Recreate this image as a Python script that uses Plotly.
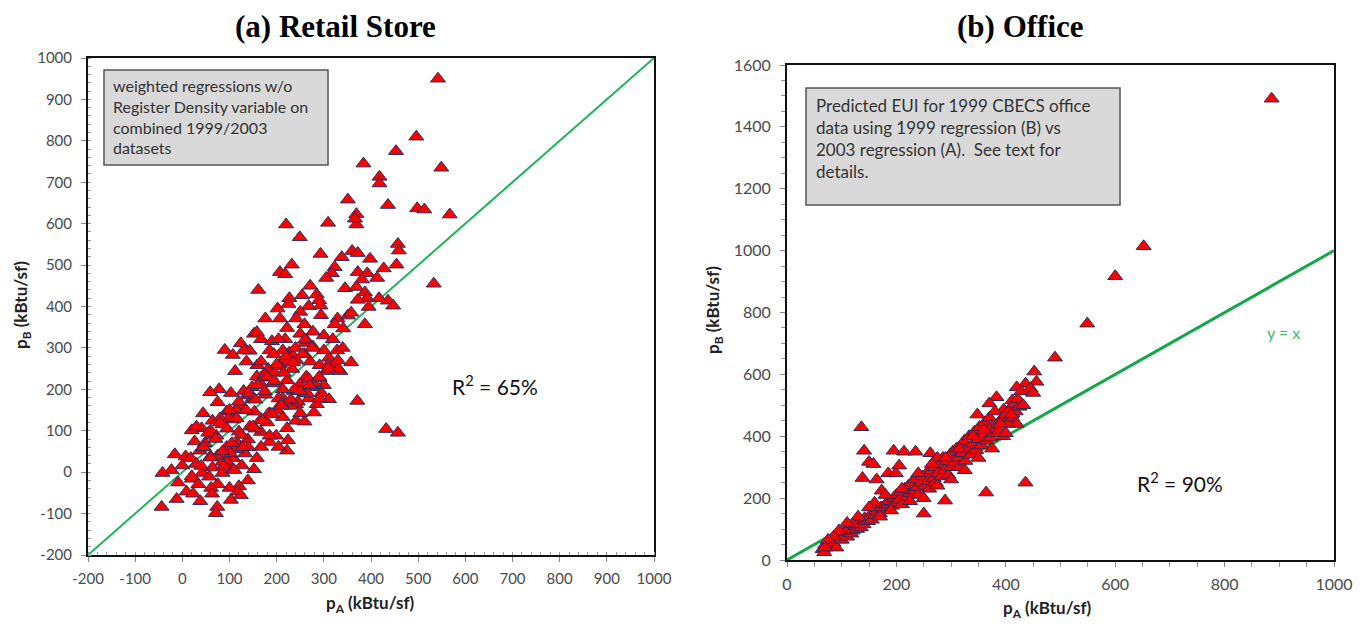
import plotly.graph_objects as go

# ---------------- data: (a) Retail Store ----------------
retail_pa = [542, 496, 453, 549, 384, 418, 418, 351, 436, 498, 513, 567, 369, 369, 366, 220, 309, 249,
             293, 360, 372, 457, 459, 454, 533, 232, 207, 218, 338, 323, 317, 305, 398, 372, 392, 413,
             427, 381, 345, 369, 387, 392, 372, 417, 436, 447, 395, 161, 271, 254, 227, 285, 290, 268,
             293, 202, 225, 250, 207, 241, 294, 329, 351, 323, 341, 358, 387, 176, 152, 167, 124, 90,
             107, 143, 190, 218, 250, 261, 300, 319, 328, 358, 314, 335, 305, 291, 263, 233, 207, 182,
             159, 136, 112, 167, 194, 222, 250, 277, 295, 311, 285, 279, 241, 213, 176, 149, 130, 103,
             78, 59, 75, 94, 121, 153, 185, 213, 241, 222, 199, 224, 185, 167, 143, 120, 108, 85,
             64, 44, 41, 20, 26, 48, 72, 94, 117, 139, 167, 158, 133, 108, 85, 60, 37, 7,
             -16, 0, -23, -42, -9, 20, 42, 64, 85, 106, 126, 152, 139, 120, 100, 75, 57, 34,
             9, 23, 38, 61, 63, 74, 71, 103, 117, 124, -12, -44, 62, 75, 18, 167, 259, 250,
             268, 291, 259, 236, 213, 158, 130, 222, 204, 185, 277, 259, 222, 204, 185, 167, 158, 204,
             371, 432, 457, 271, 291, 311, 300, 277, 259, 241, 227, 213, 194, 140, 115, 95, 180, 230,
             265, 300, 330, 172, 148, 120, 98, 60, 45, 30, 88, 110, 190, 245, 280, 310, 340, 200,
             150, 175, 205, 235, 262, 128, 102, 80, 155, 182, 210, 238, 268, 115, 140, 165, 195, 225,
             30, 55, 80, 100, 120, 140, 160, 180, 200, 220, 240, 260, 45, 70, 95, 115, 135, 155,
             175, 195, 215, 235, 255, 275, 20, 40, 60, 85, 105, 125, 150, 170, 190, 210, 230, 250,
             270, 290, 310, 330]
retail_pb = [950, 810, 775, 735, 745, 713, 697, 658, 645, 637, 634, 622, 623, 598, 612, 598, 602, 567,
             527, 534, 529, 551, 535, 501, 455, 501, 483, 478, 519, 495, 480, 469, 515, 483, 480, 469,
             492, 465, 444, 447, 434, 420, 416, 420, 414, 402, 399, 440, 450, 427, 420, 429, 415, 401,
             402, 395, 406, 387, 371, 371, 379, 371, 378, 357, 347, 385, 357, 371, 334, 321, 311, 295,
             283, 293, 316, 321, 334, 312, 330, 321, 294, 265, 265, 244, 244, 227, 231, 249, 261, 249,
             258, 267, 244, 228, 214, 222, 213, 205, 191, 176, 164, 144, 164, 178, 187, 176, 196, 191,
             200, 193, 169, 146, 150, 146, 142, 133, 124, 106, 88, 77, 73, 97, 110, 98, 127, 115,
             124, 142, 106, 101, 74, 70, 88, 61, 70, 79, 61, 34, 45, 34, 25, 38, 52, 38,
             43, 16, 5, -2, -25, -16, -2, 11, -2, 7, 16, 7, -20, -34, -38, -29, -11, -29,
             -47, -52, -70, -38, -52, -84, -99, -67, -47, -56, -65, -84, 88, 40, 34, 128, 122, 142,
             178, 178, 191, 196, 200, 338, 294, 348, 321, 294, 339, 357, 52, 61, 88, 267, 231, 178,
             172, 104, 95, 267, 258, 276, 294, 303, 285, 271, 289, 294, 285, 60, 55, 25, 120, 160,
             190, 210, 250, 230, 205, 160, 130, 100, 60, 20, 15, 5, 140, 170, 215, 260, 300, 150,
             180, 235, 255, 280, 320, 60, 45, 130, 105, 140, 165, 200, 225, 150, 185, 215, 240, 270,
             110, 95, 120, 150, 170, 190, 210, 230, 260, 280, 300, 320, 60, 80, 105, 130, 150, 175,
             195, 220, 240, 265, 285, 300, -10, 15, 35, 50, 70, 90, 110, 125, 140, 160, 175, 195,
             210, 230, 250, 270]

# ---------------- data: (b) Office ----------------
office_pa = [886, 652, 600, 549, 490, 452, 436, 456, 444, 420, 383, 370, 348, 396, 412, 412, 404, 436,
             364, 289, 250, 136, 141, 150, 158, 138, 164, 195, 214, 185, 199, 205, 173,
             65, 68, 70, 75, 80, 85, 90, 92, 95, 100, 105, 110, 112, 118, 120, 125, 128, 132,
             135, 140, 142, 148, 150, 155, 158, 162, 165, 170, 172, 178, 180, 185, 188, 192, 195, 198,
             200, 205, 208, 210, 215, 218, 222, 225, 228, 232, 235, 238, 240, 245, 248, 252, 255, 258,
             260, 265, 268, 270, 272, 276, 280, 283, 285, 288, 292, 295, 298, 300, 303, 306, 310, 312,
             315, 318, 320, 324, 326, 330, 333, 336, 340, 343, 346, 350, 352, 355, 358, 362, 365, 368,
             370, 372, 375, 378, 380, 385, 388, 392, 395, 400, 405, 408, 412, 415, 418, 422, 425, 428,
             432, 445, 450, 235, 262, 275,
             180, 190, 210, 225, 240, 250, 265, 275, 290, 300, 315, 325, 340, 350, 360, 375, 390, 400,
             410, 420, 160, 150, 170, 130, 120, 110, 95, 85, 75, 70]
office_pb = [1491, 1014, 917, 764, 654, 609, 570, 576, 546, 558, 526, 506, 470, 486, 516, 474, 450, 250,
             218, 192, 150, 429, 353, 317, 310, 265, 260, 353, 350, 280, 280, 305, 224,
             35, 25, 50, 45, 60, 55, 40, 70, 80, 65, 90, 75, 100, 85, 95, 110, 100, 120,
             105, 115, 135, 125, 140, 130, 150, 145, 160, 150, 170, 165, 180, 170, 190, 175, 200, 185,
             210, 195, 220, 180, 230, 205, 240, 215, 250, 225, 260, 235, 210, 250, 270, 240, 280, 255,
             230, 290, 265, 300, 250, 280, 310, 270, 330, 290, 320, 275, 340, 300, 350, 315, 360, 330,
             300, 370, 345, 385, 320, 360, 400, 340, 375, 415, 355, 390, 430, 370, 400, 445, 385, 420,
             460, 395, 430, 410, 480, 440, 420, 455, 400, 470, 440, 490, 460, 505, 480, 520, 495, 545,
             500, 555, 540, 350, 345, 330,
             210, 160, 230, 190, 280, 200, 310, 240, 330, 260, 360, 290, 400, 330, 420, 360, 440, 410,
             470, 440, 185, 170, 140, 140, 115, 120, 95, 75, 65, 40]

diag_x = [-200, 1000]
diag_y = [-200, 1000]
diag2_x = [0, 1000]
diag2_y = [0, 1000]

left_xticks = list(range(-200, 1001, 100))
left_yticks = list(range(-200, 1001, 100))
right_xticks = list(range(0, 1001, 200))
right_yticks = list(range(0, 1601, 200))

# ---------------- figure ----------------
W, H = 1364, 626
OFF = 8  # page body margin
RED = "#ff0000"
EDGE = "#2a2a5a"
GREEN = "#1fb45a"
TICKFONT = dict(family="Lato, 'Open Sans', sans-serif", size=15, color="#4a4a4a")

fig = go.Figure()

marker = dict(symbol="triangle-up", size=13, color=RED, line=dict(color=EDGE, width=1))

fig.add_trace(go.Scatter(x=diag_x, y=diag_y, mode="lines", line=dict(color=GREEN, width=2),
                         xaxis="x", yaxis="y", hoverinfo="skip"))
fig.add_trace(go.Scatter(x=retail_pa, y=retail_pb, mode="markers", marker=marker,
                         xaxis="x", yaxis="y"))
fig.add_trace(go.Scatter(x=diag2_x, y=diag2_y, mode="lines", line=dict(color="#12a84a", width=3),
                         xaxis="x2", yaxis="y2", hoverinfo="skip"))
fig.add_trace(go.Scatter(x=office_pa, y=office_pb, mode="markers", marker=marker,
                         xaxis="x2", yaxis="y2"))


def px_x(p):
    return (p - OFF) / W


def px_y(p):
    return 1 - (p - OFF) / H


axis_common = dict(showgrid=False, zeroline=False, showline=True, mirror=True, automargin=False,
                   linecolor="#111111", linewidth=2, ticks="outside",
                   ticklen=5, tickcolor="#888888", fixedrange=True)
RIGHT_TICKFONT = dict(family="Lato, 'Open Sans', sans-serif", size=16, color="#4a4a4a")

fig.update_layout(
    width=W, height=H, margin=dict(l=0, r=0, t=0, b=0, autoexpand=False),
    paper_bgcolor="white", plot_bgcolor="white", showlegend=False,
    xaxis=dict(domain=[px_x(88), px_x(654)], range=[-200, 1000], tickvals=left_xticks,
               ticktext=[str(v) for v in left_xticks], ticklabelstandoff=4, tickfont=TICKFONT,
               anchor="y", minor=dict(dtick=20, ticks="inside", ticklen=3, tickcolor="#999999"),
               **axis_common),
    yaxis=dict(domain=[px_y(555), px_y(58)], range=[-200, 1000], tickvals=left_yticks,
               ticktext=[str(v) for v in left_yticks], ticklabelstandoff=6, tickfont=TICKFONT,
               anchor="x", minor=dict(dtick=20, ticks="inside", ticklen=3, tickcolor="#999999"),
               **axis_common),
    xaxis2=dict(domain=[px_x(787), px_x(1334)], range=[0, 1000], tickvals=right_xticks,
                ticklabelstandoff=4, tickfont=RIGHT_TICKFONT,
                anchor="y2", minor=dict(dtick=50, ticks="outside", ticklen=5, tickcolor="#999999"),
                **axis_common),
    yaxis2=dict(domain=[px_y(560), px_y(65)], range=[0, 1600], tickvals=right_yticks,
                ticklabelstandoff=6, tickfont=RIGHT_TICKFONT,
                anchor="x2", minor=dict(dtick=50, ticks="outside", ticklen=4, tickcolor="#999999"),
                **axis_common),
)

# text boxes
fig.add_shape(type="rect", xref="paper", yref="paper",
              x0=px_x(104), x1=px_x(328), y0=px_y(165), y1=px_y(70),
              fillcolor="#d9d9d9", line=dict(color="#555555", width=1.5), layer="above")
fig.add_shape(type="rect", xref="paper", yref="paper",
              x0=px_x(806), x1=px_x(1120), y0=px_y(205), y1=px_y(88),
              fillcolor="#d9d9d9", line=dict(color="#555555", width=1.5), layer="above")

fig.add_annotation(xref="paper", yref="paper", x=px_x(111), y=px_y(74), xanchor="left", yanchor="top",
                   align="left", showarrow=False,
                   font=dict(family="Lato, 'Open Sans', sans-serif", size=16, color="#333333"),
                   text="weighted regressions w/o<br>Register Density variable on<br>combined 1999/2003<br>datasets")
fig.add_annotation(xref="paper", yref="paper", x=px_x(814), y=px_y(93), xanchor="left", yanchor="top",
                   align="left", showarrow=False,
                   font=dict(family="Lato, 'Open Sans', sans-serif", size=17, color="#333333"),
                   text="Predicted EUI for 1999 CBECS office<br>data using 1999 regression (B) vs<br>2003 regression (A).  See text for<br>details.")

# R^2 labels and y = x
fig.add_annotation(xref="x", yref="y", x=663, y=210, showarrow=False,
                   font=dict(family="Lato, sans-serif", size=21, color="#111111"),
                   text="R<sup>2</sup> = 65%")
fig.add_annotation(xref="x2", yref="y2", x=718, y=252, showarrow=False,
                   font=dict(family="Lato, sans-serif", size=21, color="#111111"),
                   text="R<sup>2</sup> = 90%")
fig.add_annotation(xref="x2", yref="y2", x=907, y=734, showarrow=False,
                   font=dict(family="Lato, sans-serif", size=16, color="#3dbb6e"),
                   text="y = x")

# titles
TITLEFONT = dict(family="'Liberation Serif', 'Times New Roman', serif", size=31, color="black")
fig.add_annotation(xref="paper", yref="paper", x=px_x(335), y=px_y(26), showarrow=False,
                   xanchor="center", yanchor="middle", font=TITLEFONT, text="<b>(a) Retail Store</b>")
fig.add_annotation(xref="paper", yref="paper", x=px_x(1020), y=px_y(26), showarrow=False,
                   xanchor="center", yanchor="middle", font=TITLEFONT, text="<b>(b) Office</b>")

# axis titles
AXFONT = dict(family="Lato, 'Open Sans', sans-serif", size=17, color="#222222")
fig.add_annotation(xref="paper", yref="paper", x=px_x(370), y=px_y(604), showarrow=False,
                   xanchor="center", yanchor="middle", font=AXFONT, text="<b>p<sub>A</sub> (kBtu/sf)</b>")
fig.add_annotation(xref="paper", yref="paper", x=px_x(1047), y=px_y(609), showarrow=False,
                   xanchor="center", yanchor="middle", font=AXFONT, text="<b>p<sub>A</sub> (kBtu/sf)</b>")
fig.add_annotation(xref="paper", yref="paper", x=px_x(22), y=px_y(305), showarrow=False,
                   xanchor="center", yanchor="middle", textangle=-90, font=AXFONT,
                   text="<b>p<sub>B</sub> (kBtu/sf)</b>")
fig.add_annotation(xref="paper", yref="paper", x=px_x(714), y=px_y(310), showarrow=False,
                   xanchor="center", yanchor="middle", textangle=-90, font=AXFONT,
                   text="<b>p<sub>B</sub> (kBtu/sf)</b>")

fig.write_html("out.html")
